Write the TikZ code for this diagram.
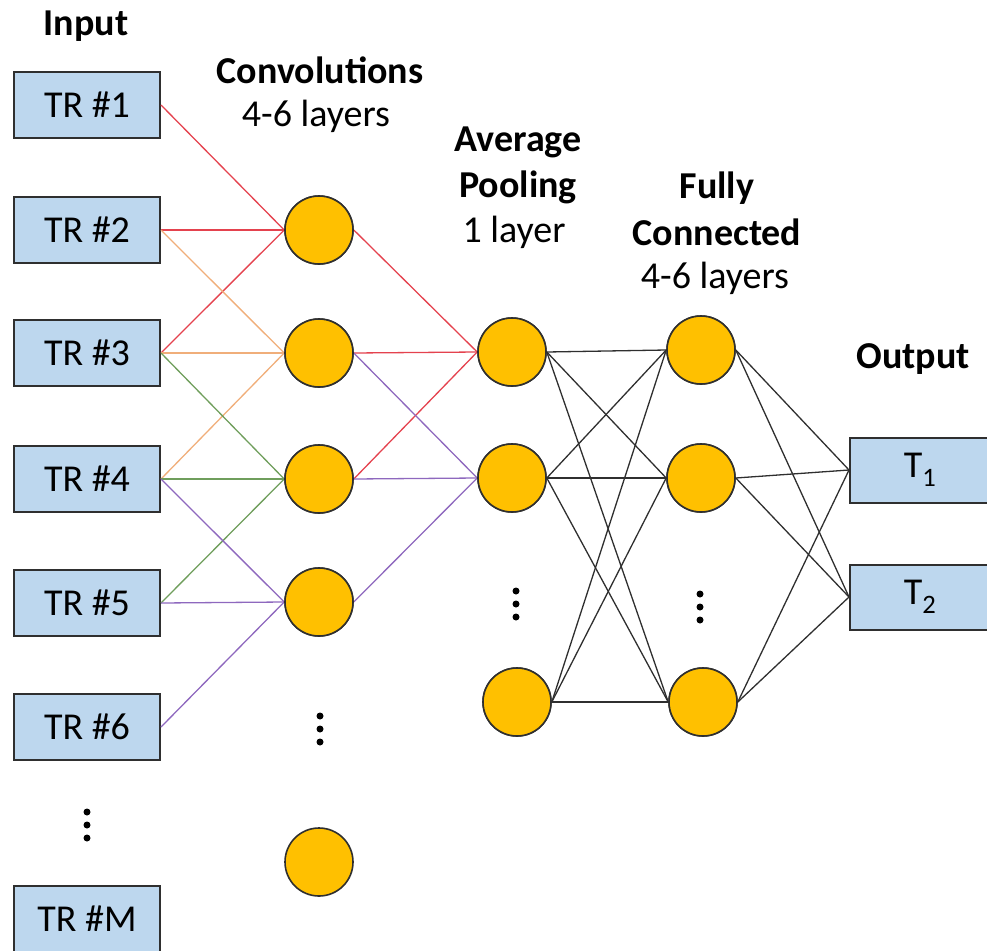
\documentclass[tikz,border=0pt]{standalone}
\usepackage{fontspec}
\setmainfont{Carlito}
\definecolor{boxfill}{HTML}{BDD7EE}
\definecolor{boxline}{HTML}{2F2F2F}
\definecolor{neuronfill}{HTML}{FFC000}
\definecolor{wred}{HTML}{E4424E}
\definecolor{worange}{HTML}{F0AE7A}
\definecolor{wgreen}{HTML}{6F9E5C}
\definecolor{wpurple}{HTML}{8E68BE}
\begin{document}
\begin{tikzpicture}[x=1pt,y=-1pt,
  inbox/.style={draw=boxline, fill=boxfill, line width=2pt, minimum width=146pt,
    minimum height=66pt, inner sep=0pt, font=\fontsize{38}{44}\selectfont},
  outbox/.style={inbox, minimum width=140pt, minimum height=65pt},
  neuron/.style={circle, draw=boxline, fill=neuronfill, line width=1.6pt,
    minimum size=68pt, inner sep=0pt},
  head/.style={anchor=base, inner sep=0pt, font=\fontsize{38}{44}\selectfont\bfseries},
  note/.style={anchor=base, inner sep=0pt, font=\fontsize{38}{44}\selectfont},
  wire/.style={line width=1.3pt},
  dotmark/.style={circle, fill=black, inner sep=0pt, minimum size=7pt},
]
\path[use as bounding box] (0,0) rectangle (987,950);
\clip (0,0) rectangle (987,950);

% headings
\node[head] (hIn)   at (86,36)   {Input};
\node[head] (hConv) at (320,83)  {Convolutions};
\node[note] (nConv) at (316,126) {4-6 layers};
\node[head] (hAvg)  at (518,151) {Average};
\node[head] (hPool) at (518,197) {Pooling};
\node[note] (nPool) at (514,242) {1 layer};
\node[head] (hFul)  at (717,198) {Fully};
\node[head] (hCon)  at (717,245) {Connected};
\node[note] (nFC)   at (715,288) {4-6 layers};
\node[head] (hOut)  at (913,368) {Output};

% input boxes
\node[inbox] (in1) at (87,105) {TR \#1};
\node[inbox] (in2) at (87,230) {TR \#2};
\node[inbox] (in3) at (87,353) {TR \#3};
\node[inbox] (in4) at (87,479) {TR \#4};
\node[inbox] (in5) at (87,603) {TR \#5};
\node[inbox] (in6) at (87,727) {TR \#6};
\node[inbox] (inM) at (87,919) {TR \#M};

% convolution neurons
\node[neuron] (c1) at (319,230) {};
\node[neuron] (c2) at (319,353) {};
\node[neuron] (c3) at (319,479) {};
\node[neuron] (c4) at (319,602) {};
\node[neuron] (c5) at (319,862) {};

% pooling neurons
\node[neuron] (p1) at (512,352) {};
\node[neuron] (p2) at (512,478) {};
\node[neuron] (p3) at (517,702) {};

% fully connected neurons
\node[neuron] (f1) at (701,350) {};
\node[neuron] (f2) at (701,478) {};
\node[neuron] (f3) at (703,702) {};

% output boxes
\node[outbox] (t1) at (920,470) {T\textsubscript{1}};
\node[outbox] (t2) at (920,597) {T\textsubscript{2}};

% ellipsis dots
\foreach \n/\x/\y in {di/87/825, dc/320/729, dp/516/604, df/700/607} {
  \node[dotmark] (\n a) at (\x,\y-13) {};
  \node[dotmark] (\n b) at (\x,\y) {};
  \node[dotmark] (\n c) at (\x,\y+13) {};
}

% input to convolution
\foreach \s in {in1,in2,in3} \draw[wire,wred] (\s.east) -- (c1.west);
\foreach \s in {in2,in3,in4} \draw[wire,worange] (\s.east) -- (c2.west);
\foreach \s in {in3,in4,in5} \draw[wire,wgreen] (\s.east) -- (c3.west);
\foreach \s in {in4,in5,in6} \draw[wire,wpurple] (\s.east) -- (c4.west);

% convolution to pooling
\foreach \s in {c1,c2,c3} \draw[wire,wred] (\s.east) -- (p1.west);
\foreach \s in {c2,c3,c4} \draw[wire,wpurple] (\s.east) -- (p2.west);

% pooling to fully connected
\foreach \s in {p1,p2,p3} \foreach \t in {f1,f2,f3}
  \draw[wire,boxline] (\s.east) -- (\t.west);

% fully connected to output
\foreach \s in {f1,f2,f3} \foreach \t in {t1,t2}
  \draw[wire,boxline] (\s.east) -- (\t.west);

% redraw nodes above the wires
\foreach \n/\x/\y in {c1/319/230, c2/319/353, c3/319/479, c4/319/602,
                      p1/512/352, p2/512/478, p3/517/702,
                      f1/701/350, f2/701/478, f3/703/702}
  \node[neuron] at (\x,\y) {};
\end{tikzpicture}
\end{document}
